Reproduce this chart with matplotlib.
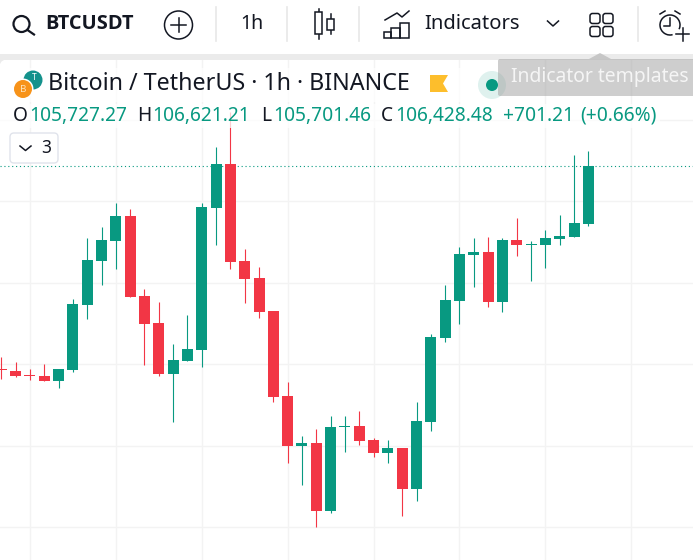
import matplotlib
matplotlib.use("Agg")
import matplotlib.pyplot as plt
from matplotlib.patches import Circle, Rectangle, FancyBboxPatch, Polygon, Arc

# BTCUSDT 1h candles
opens = [103942, 103918, 103869, 103857, 103795, 103930, 104728, 105268, 105513, 105820, 104838, 104507,
         103881, 104040, 104175, 105918, 106458, 105268, 105059, 104654, 103611, 102998, 103034, 102200,
         103231, 103243, 103071, 102912, 102973, 102470, 103292, 104323, 104777, 105341, 105378, 104764,
         105525, 105464, 105464, 105537, 105562, 105727]
highs = [104090, 104028, 103942, 104004, 103942, 104801, 105550, 105685, 105979, 105906, 104924, 104764,
         104249, 104605, 105979, 106666, 107096, 105415, 105194, 104654, 103783, 103120, 103206, 103366,
         103366, 103427, 103096, 103071, 102973, 103537, 104372, 104973, 105439, 105550, 105562, 105550,
         105795, 105513, 105648, 105832, 106568, 106621]
lows = [103820, 103844, 103807, 103795, 103709, 103906, 104556, 104973, 105169, 104826, 103991, 103857,
        103292, 104040, 103967, 105464, 105169, 104752, 104568, 103537, 102789, 102519, 102004, 102175,
        102924, 103010, 102863, 102789, 102139, 102323, 103182, 104274, 104495, 104949, 104703, 104642,
        105329, 105022, 105182, 105464, 105562, 105701]
closes = [103930, 103857, 103857, 103795, 103942, 104740, 105280, 105525, 105820, 104826, 104495, 103881,
          104053, 104188, 105930, 106458, 105255, 105047, 104642, 103599, 102998, 103034, 102200, 103231,
          103243, 103059, 102912, 102973, 102470, 103304, 104335, 104789, 105353, 105378, 104764, 105525,
          105464, 105476, 105550, 105574, 105734, 106428]
last_price = 106428.48
price_grid = [102000, 103000, 104000, 105000, 106000, 107000]
time_grid = [2, 8, 14, 20, 26, 32, 38, 44]

GREEN = "#089981"
RED = "#f23645"
DARK = "#131722"
FONT = "Noto Sans"

W, H = 693, 560
plt.rcParams["font.family"] = FONT
fig = plt.figure(figsize=(W / 100, H / 100), dpi=100)

# --- candles ---
ax = fig.add_axes([0, 0, 1, 500 / H])
ax.set_xlim(-0.091, 48.31)
ax.set_ylim(101599, 107734)
ax.axis("off")
for p in price_grid:
    ax.axhline(p, color="#f3f3f3", lw=1, zorder=1)
for t in time_grid:
    ax.axvline(t, color="#f3f3f3", lw=1, zorder=1)
ax.axhline(last_price, color=GREEN, lw=0.8, ls=(0, (1, 2.5)), zorder=2)
for i in range(len(opens)):
    col = GREEN if closes[i] >= opens[i] else RED
    wick = ax.vlines(i, lows[i], highs[i], color=col, lw=0.8, zorder=3)
    wick.set_snap(True)
    ax.bar(i, abs(closes[i] - opens[i]), bottom=min(opens[i], closes[i]), width=0.77, color=col, lw=0, zorder=4)

# --- toolbar and overlays, in pixel coordinates ---
ov = fig.add_axes([0, 0, 1, 1], zorder=5)
ov.set_xlim(0, W)
ov.set_ylim(H, 0)
ov.axis("off")
ov.patch.set_alpha(0)

ov.add_patch(Rectangle((0, 0), W, 54, color="white", lw=0))
ov.add_patch(Rectangle((0, 54), W, 6, color="#ebebeb", lw=0))
ov.add_patch(Polygon([(0, 60), (4, 60), (1.5, 61.5), (0, 64)], color="#ebebeb", lw=0))
# legend rows wash out what is behind them
ov.add_patch(Rectangle((0, 68), 470, 34, color="white", alpha=0.75, lw=0))
ov.add_patch(Rectangle((0, 104), 660, 24, color="white", alpha=0.75, lw=0))

for x in [215.5, 286.5, 359, 637.5]:
    ov.plot([x, x], [7, 41], color="#e8e8e8", lw=1.2)

# search
ov.add_patch(Circle((21.5, 24), 8, fill=False, ec=DARK, lw=1.6))
ov.plot([27.5, 34], [30, 34.5], color=DARK, lw=1.6)
ov.text(45, 24, "BTCUSDT", fontsize=14.4, fontweight="bold", family="Open Sans", color=DARK, va="center", ha="left")
# plus button
ov.add_patch(Circle((178.5, 25), 14, fill=False, ec=DARK, lw=1.1))
ov.plot([171, 186], [25, 25], color=DARK, lw=1.1)
ov.plot([178.5, 178.5], [18, 32], color=DARK, lw=1.1)
ov.text(251.5, 24, "1h", fontsize=14, color=DARK, va="center", ha="center")
# candle icon
ov.plot([318.5, 318.5], [9, 39], color=DARK, lw=1.1)
ov.add_patch(Rectangle((315, 12), 7, 22, fc="white", ec=DARK, lw=1.1, zorder=3))
ov.plot([330.5, 330.5], [14, 34], color=DARK, lw=1.1)
ov.add_patch(Rectangle((327, 19), 7, 11, fc="white", ec=DARK, lw=1.1, zorder=3))
# indicators icon
ov.plot([385, 397, 402, 409], [20, 13, 17, 11], color=DARK, lw=1.1)
ov.add_patch(Rectangle((384, 32), 7, 5.5, fill=False, ec=DARK, lw=1.1))
ov.add_patch(Rectangle((391, 28), 9, 9.5, fill=False, ec=DARK, lw=1.1))
ov.add_patch(Rectangle((400, 23), 8.5, 14.5, fill=False, ec=DARK, lw=1.1))
ov.text(424, 24, "Indicators", fontsize=14.5, color=DARK, va="center", ha="left")
ov.plot([547.5, 553, 558.5], [21, 26, 21], color=DARK, lw=1.1)
# layout icon
for x in [590, 603]:
    for y in [13.5, 26.5]:
        ov.add_patch(FancyBboxPatch((x + 2, y + 2), 6, 6, boxstyle="round,pad=2,rounding_size=2.5", fill=False, ec=DARK, lw=1.1))
# alarm icon
ov.add_patch(Arc((670, 25), 20, 20, theta1=75, theta2=25, ec=DARK, lw=1.1))
ov.plot([670, 670, 664], [18, 26, 26], color=DARK, lw=1.1)
ov.plot([660, 665], [14, 11], color=DARK, lw=1.1)
ov.plot([675, 680], [11, 14], color=DARK, lw=1.1)
ov.plot([676, 689], [34, 34], color=DARK, lw=1.1)
ov.plot([683, 683], [28, 41], color=DARK, lw=1.1)

# symbol logos
ov.add_patch(Circle((33, 80), 9.5, color="#14928c", lw=0))
ov.text(34, 78, "T", fontsize=6, color="white", ha="center", va="center", fontweight="bold")
ov.add_patch(Circle((23, 89), 10.5, color="white", lw=0, zorder=3))
ov.add_patch(Circle((23, 89), 9, color="#f7931a", lw=0, zorder=3))
ov.text(23, 89, "B", fontsize=7, color="#fde3bd", ha="center", va="center", fontweight="bold", zorder=4)

ov.text(48, 84, "Bitcoin / TetherUS · 1h · BINANCE", fontsize=16.75, color=DARK, va="center", ha="left")
ov.add_patch(Polygon([(430, 75), (448, 75), (443, 83.5), (448, 92), (430, 92)], color="#fdbe2c", lw=0))
ov.add_patch(Circle((492, 85), 14, color=GREEN, alpha=0.13, lw=0))
ov.add_patch(Circle((492, 85), 6, color=GREEN, lw=0))

# OHLC row
ohlc_labels = [(13, "O"), (137, "H"), (261, "L"), (381, "C")]
ohlc_values = [(29, "105,727.27"), (152, "106,621.21"), (273, "105,701.46"), (395, "106,428.48"),
               (503, "+701.21"), (580, "(+0.66%)")]
for x, s in ohlc_labels:
    ov.text(x, 116, s, fontsize=13.8, color=DARK, va="center", ha="left")
for x, s in ohlc_values:
    ov.text(x, 116, s, fontsize=13.8, color=GREEN, va="center", ha="left")

# collapse button
ov.add_patch(FancyBboxPatch((13, 136), 42, 24, boxstyle="round,pad=3,rounding_size=4", fc="white", ec="#e0e3eb", lw=1))
ov.plot([20, 25.5, 31], [146, 150.5, 146], color=DARK, lw=1.1)
ov.text(46, 148, "3", fontsize=12.5, color=DARK, ha="center", va="center")

# tooltip
ov.add_patch(Polygon([(589, 59), (600, 53), (611, 59)], color="#bdbdbd", alpha=0.8, lw=0))
ov.add_patch(FancyBboxPatch((500, 61), 195, 33, boxstyle="round,pad=2,rounding_size=2", color="#9e9e9e", alpha=0.5, lw=0))
ov.text(511, 77, "Indicator templates", fontsize=13.9, color="#f5f5f5", va="center", ha="left")

fig.savefig("out.png", dpi=100)
